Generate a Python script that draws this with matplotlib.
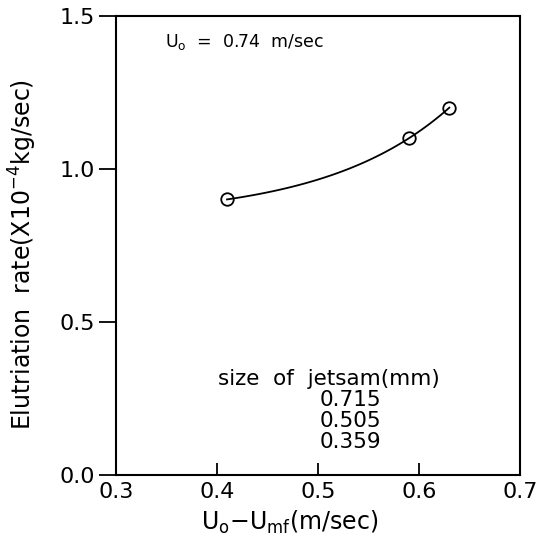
import matplotlib.pyplot as plt
import numpy as np

# data
x_pts = [0.41, 0.59, 0.63]
y_pts = [0.90, 1.10, 1.20]
jetsam_sizes = ['0.715', '0.505', '0.359']
x_ticks = [0.3, 0.4, 0.5, 0.6, 0.7]
y_ticks = [0.0, 0.5, 1.0, 1.5]

plt.rcParams['font.family'] = 'DejaVu Sans'
plt.rcParams['mathtext.fontset'] = 'dejavusans'

fig = plt.figure(figsize=(5.44, 5.47), dpi=100)
ax = fig.add_axes([0.213, 0.132, 0.743, 0.839])

# fitted curve y = a + b*exp(c*x) through the points
xp = np.array(x_pts)
yp = np.array(y_pts)
best = None
for c in np.linspace(1, 20, 1901):
    A = np.column_stack([np.ones_like(xp), np.exp(c * xp)])
    sol, res, _, _ = np.linalg.lstsq(A, yp, rcond=None)
    err = np.sum((A @ sol - yp) ** 2)
    if best is None or err < best[0]:
        best = (err, c, sol)
_, c, (a, b) = best
xs = np.linspace(xp.min(), xp.max(), 100)
ax.plot(xs, a + b * np.exp(c * xs), color='black', linewidth=1.3)
ax.plot(x_pts, y_pts, 'o', markersize=9, markerfacecolor='none',
        markeredgecolor='black', markeredgewidth=1.3)

ax.set_xlim(0.3, 0.7)
ax.set_ylim(0.0, 1.5)
ax.set_xticks(x_ticks)
ax.set_yticks(y_ticks)
ax.set_xticklabels(['%.1f' % v for v in x_ticks])
ax.set_yticklabels(['%.1f' % v for v in y_ticks])
ax.tick_params(axis='x', direction='in', length=9, width=1.3, labelsize=16, pad=5)
ax.tick_params(axis='y', direction='out', length=12, width=1.3, labelsize=16, pad=3)
for s in ax.spines.values():
    s.set_linewidth(1.5)

ax.set_xlabel(r'U$_\mathrm{o}$$-$U$_\mathrm{mf}$(m/sec)', fontsize=17)
ax.set_ylabel(r'Elutriation  rate(X10$^{-4}$kg/sec)', fontsize=17)
ax.xaxis.set_label_coords(0.43, -0.075)
ax.yaxis.set_label_coords(-0.19, 0.48)

ax.text(0.349, 1.415, r'U$_\mathrm{o}$  =  0.74  m/sec', fontsize=12.5, va='center')

ax.text(0.511, 0.312, 'size  of  jetsam(mm)', fontsize=15.5, ha='center', va='center')
for i, s in enumerate(jetsam_sizes):
    ax.text(0.532, 0.245 - i * 0.069, s, fontsize=15.5, ha='center', va='center')

fig.savefig('out.png', dpi=100)
